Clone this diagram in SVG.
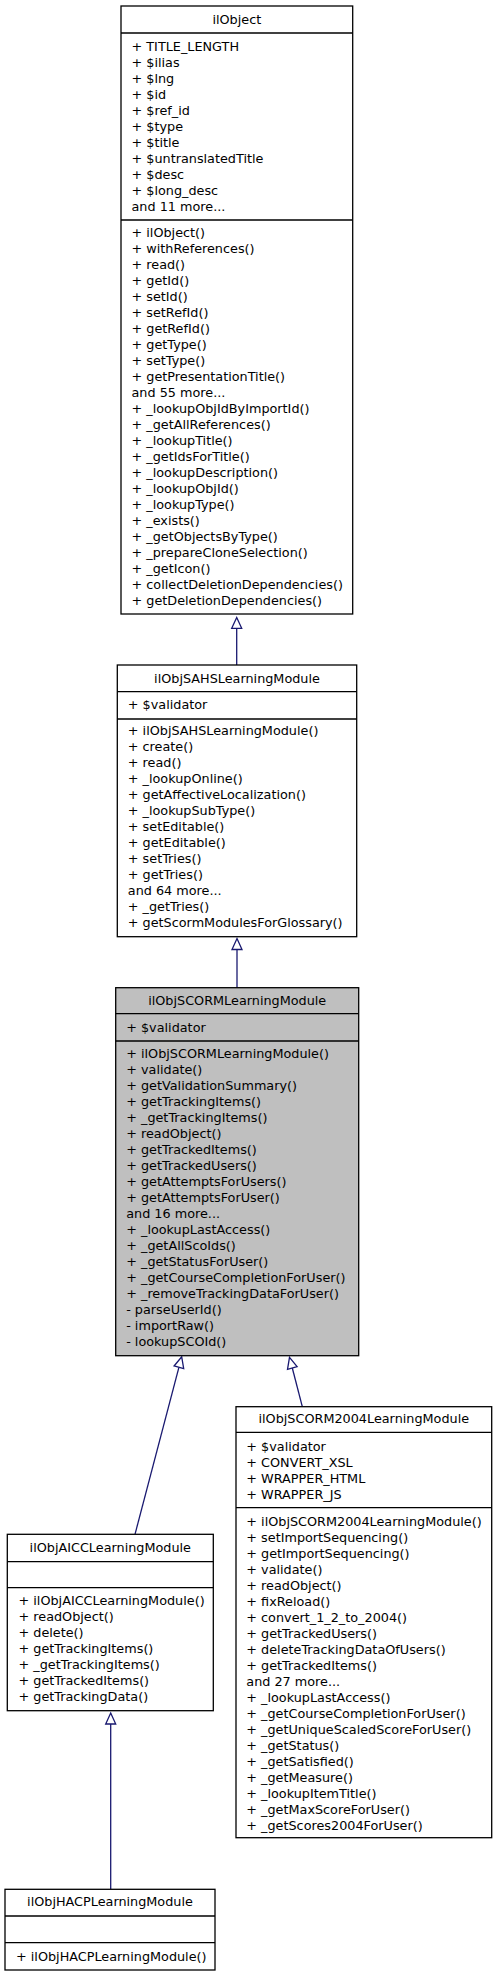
<svg xmlns="http://www.w3.org/2000/svg" width="496" height="1976" viewBox="0 0 496 1976">
<style>
text{font-family:"DejaVu Sans","Liberation Sans",sans-serif;font-size:12.8px;fill:#000}
.t{text-anchor:middle}
.box{fill:#fff;stroke:#000;stroke-width:1.3}
.cur{fill:#bfbfbf;stroke:#000;stroke-width:1.3}
.sep{stroke:#000;stroke-width:1.3}
.edge{stroke:#191970;stroke-width:1.3;fill:none}
.head{stroke:#191970;stroke-width:1.3;fill:#fff}
</style>
<rect width="496" height="1976" fill="#fff"/>
<g id="edges">
<line class="edge" x1="236.7" y1="665" x2="236.7" y2="628.3"/>
<polygon class="head" points="236.7,617.5 241.7,628.3 231.7,628.3"/>
<line class="edge" x1="237" y1="987.7" x2="237" y2="949.5"/>
<polygon class="head" points="237,938.5 242,949.5 232,949.5"/>
<line class="edge" x1="135" y1="1534.3" x2="178.9" y2="1367.3"/>
<polygon class="head" points="181.7,1356.8 183.7,1368.6 174.1,1366"/>
<line class="edge" x1="302.3" y1="1406.7" x2="292.3" y2="1368"/>
<polygon class="head" points="289.5,1357.3 297.1,1366.7 287.5,1369.3"/>
<line class="edge" x1="110.7" y1="1889.3" x2="110.7" y2="1724"/>
<polygon class="head" points="110.7,1713 115.7,1724 105.7,1724"/>
</g>
<g id="ilObject">
<rect class="box" x="121" y="6" width="231.7" height="608"/>
<line class="sep" x1="121" y1="33" x2="352.7" y2="33"/>
<line class="sep" x1="121" y1="220" x2="352.7" y2="220"/>
<text class="t" x="236.8" y="24">ilObject</text>
<text x="131.5" y="50.5">+ TITLE_LENGTH</text>
<text x="131.5" y="66.5">+ $ilias</text>
<text x="131.5" y="82.5">+ $lng</text>
<text x="131.5" y="98.5">+ $id</text>
<text x="131.5" y="114.5">+ $ref_id</text>
<text x="131.5" y="130.5">+ $type</text>
<text x="131.5" y="146.5">+ $title</text>
<text x="131.5" y="162.5">+ $untranslatedTitle</text>
<text x="131.5" y="178.5">+ $desc</text>
<text x="131.5" y="194.5">+ $long_desc</text>
<text x="131.5" y="210.5">and 11 more...</text>
<text x="131.5" y="236.5">+ ilObject()</text>
<text x="131.5" y="252.5">+ withReferences()</text>
<text x="131.5" y="268.5">+ read()</text>
<text x="131.5" y="284.5">+ getId()</text>
<text x="131.5" y="300.5">+ setId()</text>
<text x="131.5" y="316.5">+ setRefId()</text>
<text x="131.5" y="332.5">+ getRefId()</text>
<text x="131.5" y="348.5">+ getType()</text>
<text x="131.5" y="364.5">+ setType()</text>
<text x="131.5" y="380.5">+ getPresentationTitle()</text>
<text x="131.5" y="396.5">and 55 more...</text>
<text x="131.5" y="412.5">+ _lookupObjIdByImportId()</text>
<text x="131.5" y="428.5">+ _getAllReferences()</text>
<text x="131.5" y="444.5">+ _lookupTitle()</text>
<text x="131.5" y="460.5">+ _getIdsForTitle()</text>
<text x="131.5" y="476.5">+ _lookupDescription()</text>
<text x="131.5" y="492.5">+ _lookupObjId()</text>
<text x="131.5" y="508.5">+ _lookupType()</text>
<text x="131.5" y="524.5">+ _exists()</text>
<text x="131.5" y="540.5">+ _getObjectsByType()</text>
<text x="131.5" y="556.5">+ _prepareCloneSelection()</text>
<text x="131.5" y="572.5">+ _getIcon()</text>
<text x="131.5" y="588.5">+ collectDeletionDependencies()</text>
<text x="131.5" y="604.5">+ getDeletionDependencies()</text>
</g>
<g id="ilObjSAHSLearningModule">
<rect class="box" x="117.3" y="665" width="239.4" height="271.7"/>
<line class="sep" x1="117.3" y1="691.7" x2="356.7" y2="691.7"/>
<line class="sep" x1="117.3" y1="719" x2="356.7" y2="719"/>
<text class="t" x="237" y="682.7">ilObjSAHSLearningModule</text>
<text x="127.8" y="708.5">+ $validator</text>
<text x="127.8" y="735">+ ilObjSAHSLearningModule()</text>
<text x="127.8" y="751">+ create()</text>
<text x="127.8" y="767">+ read()</text>
<text x="127.8" y="783">+ _lookupOnline()</text>
<text x="127.8" y="799">+ getAffectiveLocalization()</text>
<text x="127.8" y="815">+ _lookupSubType()</text>
<text x="127.8" y="831">+ setEditable()</text>
<text x="127.8" y="847">+ getEditable()</text>
<text x="127.8" y="863">+ setTries()</text>
<text x="127.8" y="879">+ getTries()</text>
<text x="127.8" y="895">and 64 more...</text>
<text x="127.8" y="911">+ _getTries()</text>
<text x="127.8" y="927">+ getScormModulesForGlossary()</text>
</g>
<g id="ilObjSCORMLearningModule">
<rect class="cur" x="115.7" y="987.7" width="243" height="368"/>
<line class="sep" x1="115.7" y1="1013.7" x2="358.7" y2="1013.7"/>
<line class="sep" x1="115.7" y1="1041" x2="358.7" y2="1041"/>
<text class="t" x="237.2" y="1005">ilObjSCORMLearningModule</text>
<text x="126.2" y="1031.7">+ $validator</text>
<text x="126.2" y="1058.3">+ ilObjSCORMLearningModule()</text>
<text x="126.2" y="1074.3">+ validate()</text>
<text x="126.2" y="1090.3">+ getValidationSummary()</text>
<text x="126.2" y="1106.3">+ getTrackingItems()</text>
<text x="126.2" y="1122.3">+ _getTrackingItems()</text>
<text x="126.2" y="1138.3">+ readObject()</text>
<text x="126.2" y="1154.3">+ getTrackedItems()</text>
<text x="126.2" y="1170.3">+ getTrackedUsers()</text>
<text x="126.2" y="1186.3">+ getAttemptsForUsers()</text>
<text x="126.2" y="1202.3">+ getAttemptsForUser()</text>
<text x="126.2" y="1218.3">and 16 more...</text>
<text x="126.2" y="1234.3">+ _lookupLastAccess()</text>
<text x="126.2" y="1250.3">+ _getAllScoIds()</text>
<text x="126.2" y="1266.3">+ _getStatusForUser()</text>
<text x="126.2" y="1282.3">+ _getCourseCompletionForUser()</text>
<text x="126.2" y="1298.3">+ _removeTrackingDataForUser()</text>
<text x="126.2" y="1314.3">- parseUserId()</text>
<text x="126.2" y="1330.3">- importRaw()</text>
<text x="126.2" y="1346.3">- lookupSCOId()</text>
</g>
<g id="ilObjSCORM2004LearningModule">
<rect class="box" x="236" y="1406.7" width="255.7" height="431"/>
<line class="sep" x1="236" y1="1432.3" x2="491.7" y2="1432.3"/>
<line class="sep" x1="236" y1="1507.7" x2="491.7" y2="1507.7"/>
<text class="t" x="363.8" y="1423.3">ilObjSCORM2004LearningModule</text>
<text x="246.3" y="1450.7">+ $validator</text>
<text x="246.3" y="1466.7">+ CONVERT_XSL</text>
<text x="246.3" y="1482.7">+ WRAPPER_HTML</text>
<text x="246.3" y="1498.7">+ WRAPPER_JS</text>
<text x="246.3" y="1525.7">+ ilObjSCORM2004LearningModule()</text>
<text x="246.3" y="1541.7">+ setImportSequencing()</text>
<text x="246.3" y="1557.7">+ getImportSequencing()</text>
<text x="246.3" y="1573.7">+ validate()</text>
<text x="246.3" y="1589.7">+ readObject()</text>
<text x="246.3" y="1605.7">+ fixReload()</text>
<text x="246.3" y="1621.7">+ convert_1_2_to_2004()</text>
<text x="246.3" y="1637.7">+ getTrackedUsers()</text>
<text x="246.3" y="1653.7">+ deleteTrackingDataOfUsers()</text>
<text x="246.3" y="1669.7">+ getTrackedItems()</text>
<text x="246.3" y="1685.7">and 27 more...</text>
<text x="246.3" y="1701.7">+ _lookupLastAccess()</text>
<text x="246.3" y="1717.7">+ _getCourseCompletionForUser()</text>
<text x="246.3" y="1733.7">+ _getUniqueScaledScoreForUser()</text>
<text x="246.3" y="1749.7">+ _getStatus()</text>
<text x="246.3" y="1765.7">+ _getSatisfied()</text>
<text x="246.3" y="1781.7">+ _getMeasure()</text>
<text x="246.3" y="1797.7">+ _lookupItemTitle()</text>
<text x="246.3" y="1813.7">+ _getMaxScoreForUser()</text>
<text x="246.3" y="1829.7">+ _getScores2004ForUser()</text>
</g>
<g id="ilObjAICCLearningModule">
<rect class="box" x="7.3" y="1534.3" width="206" height="176.4"/>
<line class="sep" x1="7.3" y1="1561.7" x2="213.3" y2="1561.7"/>
<line class="sep" x1="7.3" y1="1587.7" x2="213.3" y2="1587.7"/>
<text class="t" x="110.3" y="1551.7">ilObjAICCLearningModule</text>
<text x="18.5" y="1605">+ ilObjAICCLearningModule()</text>
<text x="18.5" y="1621">+ readObject()</text>
<text x="18.5" y="1637">+ delete()</text>
<text x="18.5" y="1653">+ getTrackingItems()</text>
<text x="18.5" y="1669">+ _getTrackingItems()</text>
<text x="18.5" y="1685">+ getTrackedItems()</text>
<text x="18.5" y="1701">+ getTrackingData()</text>
</g>
<g id="ilObjHACPLearningModule">
<rect class="box" x="5" y="1889.3" width="210" height="80.7"/>
<line class="sep" x1="5" y1="1916" x2="215" y2="1916"/>
<line class="sep" x1="5" y1="1942.7" x2="215" y2="1942.7"/>
<text class="t" x="110" y="1905.7">ilObjHACPLearningModule</text>
<text x="16" y="1960.7">+ ilObjHACPLearningModule()</text>
</g>
</svg>
